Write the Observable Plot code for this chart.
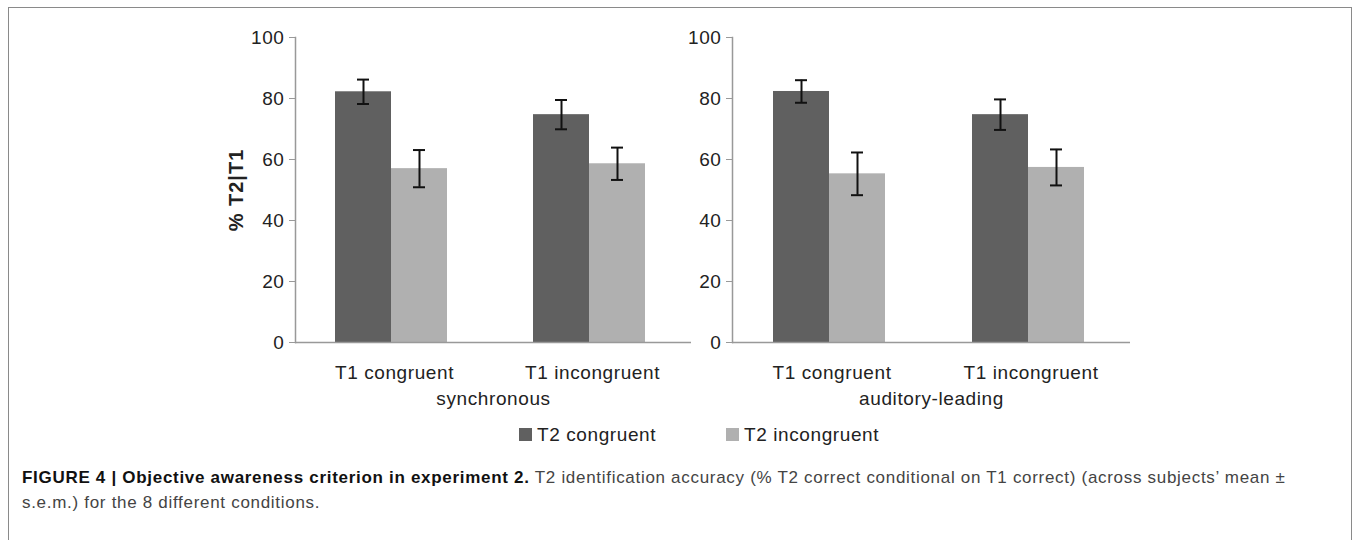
<!DOCTYPE html>
<html>
<head>
<meta charset="utf-8">
<script src="https://cdn.jsdelivr.net/npm/d3@7"></script>
<script src="https://cdn.jsdelivr.net/npm/@observablehq/plot@0.6"></script>
<style>
  html, body { margin: 0; padding: 0; background: #fff; }
  body { width: 1355px; height: 540px; position: relative; overflow: hidden; font-family: "Liberation Sans", Arial, sans-serif; }
  #box { position: absolute; left: 8px; top: 7px; width: 1344px; height: 600px; border: 1px solid #8a8a8a; box-sizing: border-box; }
  .panel { position: absolute; top: 0; }
  .panel svg { background: transparent !important; overflow: visible; }
  .panel svg text { letter-spacing: 0.6px; }
  g[aria-label="y-axis label"] text { font-weight: bold; font-size: 20px; letter-spacing: 1px; }
  .legend-item { position: absolute; top: 426px; font-size: 19px; line-height: 18px; letter-spacing: 0.6px; color: #222; white-space: nowrap; }
  .sw { display: inline-block; width: 13px; height: 13px; margin-right: 5px; vertical-align: baseline; }
  #caption { position: absolute; left: 22px; top: 465px; font-size: 17px; line-height: 25px; letter-spacing: 0.7px; color: #444; white-space: nowrap; }
  #caption b { color: #111; }
</style>
</head>
<body>
<div id="box"></div>
<div id="left" class="panel" style="left:0px"></div>
<div id="right" class="panel" style="left:680px"></div>
<div id="legend"></div>
<div id="caption"><b>FIGURE 4 | Objective awareness criterion in experiment 2.</b> T2 identification accuracy (% T2 correct conditional on T1 correct) (across subjects’ mean ±<br>s.e.m.) for the 8 different conditions.</div>
<script>
// ---- data ----
const panels = ["synchronous", "auditory-leading"];
const t1Conditions = ["T1 congruent", "T1 incongruent"];
const t2Conditions = ["T2 congruent", "T2 incongruent"];
// order: [T1 congruent/T2 congruent, T1 congruent/T2 incongruent, T1 incongruent/T2 congruent, T1 incongruent/T2 incongruent]
const synchronousMeans = [82.2, 57.0, 74.7, 58.6];
const synchronousSem = [4.0, 6.1, 4.8, 5.3];
const auditoryLeadingMeans = [82.3, 55.3, 74.7, 57.4];
const auditoryLeadingSem = [3.7, 7.0, 5.0, 5.9];
const yTicks = [0, 20, 40, 60, 80, 100];
const yLabel = "% T2|T1";
const barColors = ["#606060", "#b0b0b0"];

function rowsFor(means, sems) {
  return means.map((m, i) => ({
    t1: t1Conditions[Math.floor(i / 2)],
    t2: t2Conditions[i % 2],
    mean: m,
    sem: sems[i]
  }));
}

function panelPlot(name, means, sems, opts) {
  const rows = rowsFor(means, sems);
  return Plot.plot({
    width: opts.width,
    height: 420,
    marginTop: 37,
    marginBottom: 78,
    marginLeft: opts.marginLeft,
    marginRight: 0,
    style: { fontFamily: "Liberation Sans, Arial, sans-serif", fontSize: "19px", background: "transparent", color: "#222" },
    fx: { domain: t1Conditions, padding: 0 },
    x: { domain: t2Conditions, paddingInner: 0, paddingOuter: 0.75, align: 0.47, axis: null },
    y: { domain: [0, 100] },
    color: { domain: t2Conditions, range: barColors },
    marks: [
      Plot.barY(rows, { fx: "t1", x: "t2", y: "mean", fill: "t2" }),
      Plot.ruleX(rows, { fx: "t1", x: "t2", y1: d => d.mean - d.sem, y2: d => d.mean + d.sem, stroke: "#111", strokeWidth: 2 }),
      Plot.tickY(rows, { fx: "t1", x: "t2", y: d => d.mean - d.sem, stroke: "#111", strokeWidth: 2, insetLeft: 22, insetRight: 22 }),
      Plot.tickY(rows, { fx: "t1", x: "t2", y: d => d.mean + d.sem, stroke: "#111", strokeWidth: 2, insetLeft: 22, insetRight: 22 }),
      Plot.ruleY([0], { stroke: "#999", strokeWidth: 1.5 }),
      Plot.frame({ anchor: "left", facetAnchor: "left", stroke: "#999", strokeWidth: 1.5 }),
      Plot.axisY(yTicks, {
        tickSize: 6, tickPadding: 5, stroke: "#999", fill: "#222", fontSize: 19,
        label: opts.showLabel ? yLabel : null, labelAnchor: "center", labelOffset: 67, labelArrow: "none"
      }),
      Plot.axisFx({
        anchor: "bottom", tickSize: 0, tickPadding: 23, fontSize: 19, fill: "#222",
        label: name, labelAnchor: "center", labelOffset: 62, labelArrow: "none"
      })
    ]
  });
}

document.getElementById("left").appendChild(
  panelPlot(panels[0], synchronousMeans, synchronousSem, { width: 691, marginLeft: 294, showLabel: true })
);
document.getElementById("right").appendChild(
  panelPlot(panels[1], auditoryLeadingMeans, auditoryLeadingSem, { width: 450, marginLeft: 52, showLabel: false })
);

// legend
const legend = document.getElementById("legend");
const legendX = [519, 726];
t2Conditions.forEach((c, i) => {
  const item = document.createElement("div");
  item.className = "legend-item";
  item.style.left = legendX[i] + "px";
  const sw = document.createElement("span");
  sw.className = "sw";
  sw.style.background = barColors[i];
  item.appendChild(sw);
  item.appendChild(document.createTextNode(c));
  legend.appendChild(item);
});
</script>
</body>
</html>
